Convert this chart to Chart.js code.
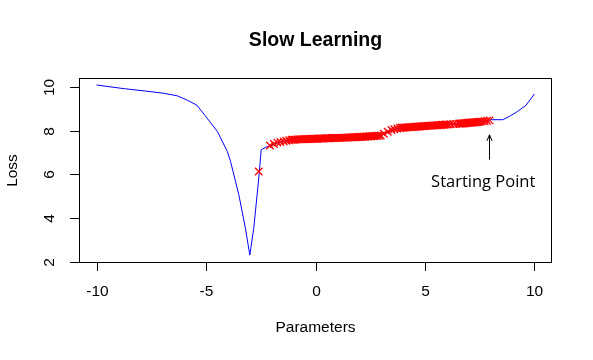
<!DOCTYPE html>
<html>
<head>
<meta charset="utf-8">
<script src="https://cdn.jsdelivr.net/npm/chart.js@4"></script>
<style>
html,body{margin:0;padding:0;background:#fff;}
canvas{display:block;}
</style>
</head>
<body>
<canvas id="c" width="593" height="360"></canvas>
<script>
// ---- data ----
const chartTitle = "Slow Learning";
const xAxisTitle = "Parameters";
const yAxisTitle = "Loss";
const xTicks = [-10, -5, 0, 5, 10];
const yTicks = [2, 4, 6, 8, 10];

// loss curve (blue line)
const curveX = [-10, -8.73, -7.82, -6.91, -6.3, -5.85, -5.42, -5.05, -4.48, -4.03, -3.88, -3.5, -3.2, -3.0, -2.82, -2.59, -2.48, -2.29, -2.06, -1.8, -1.5, -1.1, 0, 1, 2, 2.9, 3.3, 3.7, 4.5, 5.5, 6.5, 7.5, 8.02, 8.55, 8.85, 9.23, 9.61, 10.0];
const curveY = [10.09, 9.92, 9.82, 9.71, 9.59, 9.39, 9.17, 8.7, 7.96, 7.05, 6.59, 5.06, 3.53, 2.3, 3.53, 5.83, 7.12, 7.23, 7.32, 7.43, 7.5, 7.58, 7.63, 7.67, 7.71, 7.77, 7.95, 8.09, 8.17, 8.25, 8.32, 8.4, 8.5, 8.5, 8.65, 8.88, 9.16, 9.68];

// gradient descent iterates (red crosses)
const stepX = [7.95, 7.83, 7.72, 7.6, 7.5,
  7.44, 7.39, 7.34, 7.29, 7.24, 7.19, 7.14, 7.09, 7.04, 6.99, 6.94, 6.89, 6.84, 6.79, 6.74, 6.69, 6.64, 6.59, 6.54,
  6.42, 6.3, 6.17, 6.05,
  5.96, 5.89, 5.82, 5.75, 5.68, 5.61, 5.54, 5.47, 5.40, 5.33, 5.26, 5.19, 5.12, 5.05, 4.98, 4.91, 4.84, 4.77, 4.70, 4.63, 4.56, 4.49, 4.42, 4.35, 4.28, 4.21, 4.14, 4.07, 4.0, 3.93, 3.86,
  3.74, 3.6, 3.47, 3.3, 3.12, 2.98,
  2.9, 2.83, 2.76, 2.69, 2.62, 2.55, 2.48, 2.41, 2.34, 2.27, 2.2, 2.13, 2.06, 1.99, 1.92, 1.85, 1.78, 1.71, 1.64, 1.57, 1.5, 1.43, 1.36, 1.29, 1.22, 1.15, 1.08, 1.01, 0.94, 0.87, 0.8, 0.73, 0.66, 0.59, 0.52, 0.45, 0.38, 0.31, 0.24, 0.17, 0.1, 0.03, -0.04, -0.11, -0.18, -0.25, -0.32, -0.39, -0.46, -0.53, -0.6, -0.67, -0.74, -0.81, -0.88, -0.95, -1.02, -1.09,
  -1.2, -1.33, -1.45, -1.6, -1.74, -1.9, -2.08,
  -2.59];
const stepY = [8.47, 8.45, 8.43, 8.42, 8.41,
  8.40, 8.39, 8.39, 8.38, 8.38, 8.37, 8.37, 8.36, 8.36, 8.36, 8.35, 8.35, 8.34, 8.34, 8.33, 8.33, 8.33, 8.32, 8.32,
  8.31, 8.30, 8.29, 8.28,
  8.28, 8.27, 8.27, 8.26, 8.26, 8.25, 8.25, 8.24, 8.24, 8.23, 8.23, 8.22, 8.22, 8.21, 8.21, 8.20, 8.20, 8.19, 8.19, 8.18, 8.18, 8.17, 8.17, 8.16, 8.16, 8.15, 8.14, 8.14, 8.13, 8.13, 8.12,
  8.10, 8.06, 8.03, 7.95, 7.86, 7.78,
  7.77, 7.76, 7.76, 7.75, 7.75, 7.74, 7.74, 7.73, 7.73, 7.72, 7.72, 7.72, 7.71, 7.71, 7.71, 7.70, 7.70, 7.70, 7.69, 7.69, 7.69, 7.68, 7.68, 7.68, 7.67, 7.67, 7.67, 7.67, 7.66, 7.66, 7.66, 7.66, 7.65, 7.65, 7.65, 7.65, 7.64, 7.64, 7.64, 7.64, 7.63, 7.63, 7.63, 7.63, 7.62, 7.62, 7.62, 7.62, 7.61, 7.61, 7.61, 7.60, 7.60, 7.60, 7.59, 7.59, 7.58, 7.58,
  7.56, 7.54, 7.51, 7.48, 7.45, 7.39, 7.32,
  6.13];

// annotation
const annotText = "Starting Point";
const annotTextPos = [7.66, 5.62];
const arrowFrom = [7.94, 6.67];
const arrowTo = [7.94, 7.81];

// axis ranges
const xRange = [-10.8, 10.8];
const yRange = [1.94, 10.41];

// ---- chart ----
const curvePts = curveX.map((x, i) => ({x: x, y: curveY[i]}));
const stepPts = stepX.map((x, i) => ({x: x, y: stepY[i]}));

const rStyle = {
  id: 'rStyle',
  afterDraw(chart) {
    const ctx = chart.ctx;
    const a = chart.chartArea;
    const xs = chart.scales.x, ys = chart.scales.y;
    ctx.save();
    ctx.strokeStyle = '#000';
    ctx.fillStyle = '#000';
    ctx.lineWidth = 1;
    // box
    ctx.strokeRect(a.left + 0.5, a.top + 0.5, a.right - a.left - 1, a.bottom - a.top - 1);
    // x axis
    ctx.font = '15.5px "Liberation Sans", Arial, sans-serif';
    ctx.textAlign = 'center';
    ctx.textBaseline = 'middle';
    xTicks.forEach(v => {
      const px = Math.round(xs.getPixelForValue(v)) + 0.5;
      ctx.beginPath();
      ctx.moveTo(px, a.bottom - 0.5);
      ctx.lineTo(px, a.bottom + 8);
      ctx.stroke();
      ctx.fillText(String(v), px, a.bottom + 29);
    });
    // y axis
    yTicks.forEach(v => {
      const py = Math.round(ys.getPixelForValue(v)) + 0.5;
      ctx.beginPath();
      ctx.moveTo(a.left - 9, py);
      ctx.lineTo(a.left + 0.5, py);
      ctx.stroke();
      ctx.save();
      ctx.translate(a.left - 29, py);
      ctx.rotate(-Math.PI / 2);
      ctx.fillText(String(v), 0, 0);
      ctx.restore();
    });
    // axis titles
    const cx = (a.left + a.right) / 2;
    const cy = (a.top + a.bottom) / 2;
    ctx.fillText(xAxisTitle, cx, a.bottom + 65);
    ctx.save();
    ctx.translate(13, cy);
    ctx.rotate(-Math.PI / 2);
    ctx.fillText(yAxisTitle, 0, 0);
    ctx.restore();
    // title
    ctx.font = 'bold 19.5px "Liberation Sans", Arial, sans-serif';
    ctx.fillText(chartTitle, cx, 41);
    // annotation arrow
    const ax = Math.round(xs.getPixelForValue(arrowFrom[0])) + 0.5;
    const ay0 = ys.getPixelForValue(arrowFrom[1]);
    const ay1 = ys.getPixelForValue(arrowTo[1]);
    ctx.beginPath();
    ctx.moveTo(ax, ay0);
    ctx.lineTo(ax, ay1);
    ctx.moveTo(ax - 2.5, ay1 + 6);
    ctx.lineTo(ax, ay1);
    ctx.lineTo(ax + 2.5, ay1 + 6);
    ctx.stroke();
    ctx.font = '16.5px "Open Sans", sans-serif';
    ctx.fillText(annotText, xs.getPixelForValue(annotTextPos[0]), ys.getPixelForValue(annotTextPos[1]));
    ctx.restore();
  }
};

new Chart(document.getElementById('c'), {
  type: 'scatter',
  data: {
    datasets: [
      {
        label: 'steps',
        data: stepPts,
        showLine: false,
        pointStyle: 'crossRot',
        pointRadius: 5.3,
        pointBorderColor: '#ff0000',
        pointBorderWidth: 1.3,
        pointBackgroundColor: '#ff0000',
        order: 0
      },
      {
        label: 'loss',
        data: curvePts,
        showLine: true,
        borderColor: '#0000ff',
        borderWidth: 1,
        pointRadius: 0,
        tension: 0,
        order: 1
      }
    ]
  },
  options: {
    responsive: false,
    animation: false,
    devicePixelRatio: 1,
    layout: {padding: {left: 79, right: 41, top: 78, bottom: 97}},
    plugins: {legend: {display: false}, tooltip: {enabled: false}, title: {display: false}},
    scales: {
      x: {type: 'linear', min: xRange[0], max: xRange[1], display: false},
      y: {type: 'linear', min: yRange[0], max: yRange[1], display: false}
    }
  },
  plugins: [rStyle]
});
</script>
</body>
</html>
